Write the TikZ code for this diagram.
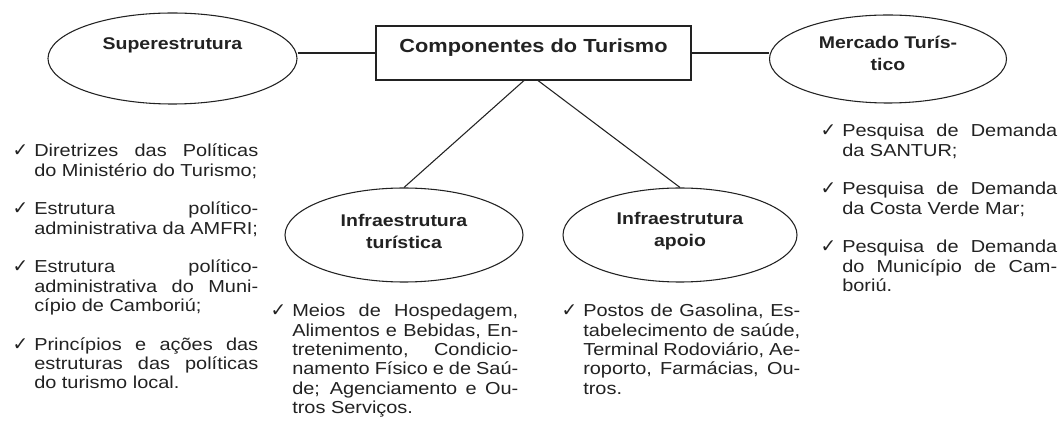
\documentclass[tikz,border=0pt]{standalone}
\usepackage{fontspec}
\setmainfont{Liberation Sans}[FakeStretch=1.15]
\newfontfamily\chkfont{DejaVu Sans}
\usetikzlibrary{shapes.geometric,calc}
\newcommand{\jl}[1]{\makebox[\linewidth][s]{#1}}
\newcommand{\lst}[2]{\parbox[t]{#1}{\noindent\llap{{\chkfont\fontsize{14pt}{14pt}\selectfont ✓}\hspace{4.5pt}}#2}}
\definecolor{ink}{HTML}{222222}
\begin{document}
\begin{tikzpicture}[x=0.75pt,y=-0.75pt,
  every node/.style={text=ink},
  ell/.style={draw=ink, ellipse, inner sep=0pt, line width=0.8pt},
  lbl/.style={font=\fontsize{12.7pt}{16.5pt}\selectfont\bfseries, align=center, text=ink},
  conn/.style={draw=ink, line width=0.8pt},
  body/.style={anchor=base west, inner sep=0pt, font=\fontsize{13pt}{14.5pt}\selectfont}
]
\useasboundingbox[fill=white] (0,0) rectangle (1063,427);

% top row
\node[ell, minimum width=186.75pt, minimum height=68.25pt,
      label={[lbl,yshift=10pt]center:Superestrutura}] (sup) at (172.5,58.5) {};
\node[draw=ink, line width=0.8pt, minimum width=236.25pt, minimum height=40.5pt, inner sep=0pt,
      label={[lbl,font=\fontsize{14.2pt}{18pt}\selectfont\bfseries,yshift=3.75pt]center:Componentes do Turismo}] (box) at (533.5,53) {};
\node[ell, minimum width=177.75pt, minimum height=66pt,
      label={[lbl,yshift=4.5pt]center:Mercado Turís-\\tico}] (merc) at (888,59) {};

% second row
\node[ell, minimum width=178.5pt, minimum height=70.5pt,
      label={[lbl,yshift=3pt]center:Infraestrutura\\turística}] (it) at (404,235) {};
\node[ell, minimum width=175.5pt, minimum height=70.5pt,
      label={[lbl,yshift=3pt]center:Infraestrutura\\apoio}] (ia) at (680,235) {};

% connectors
\draw[conn] (sup.east |- box.west) -- (box.west);
\draw[conn] (box.east) -- (merc.west |- box.east);
\draw[conn] ($(box.south)+(-9.5,0)$) -- (it.north);
\draw[conn] ($(box.south)+(4.5,0)$) -- (ia.north);

% left list
\node[body] (l1) at (34,157)
  {\lst{168pt}{\jl{Diretrizes das Políticas}\\do Ministério do Turismo;}};
\node[body] (l2) at (34,215)
  {\lst{168pt}{\jl{Estrutura político-}\\administrativa da AMFRI;}};
\node[body] (l3) at (34,273)
  {\lst{168pt}{\jl{Estrutura político-}\\\jl{administrativa do Muni-}\\cípio de Camboriú;}};
\node[body] (l4) at (34,350)
  {\lst{168pt}{\jl{Princípios e ações das}\\\jl{estruturas das políticas}\\do turismo local.}};

% middle lists
\node[body] (m1) at (292,317)
  {\lst{169.5pt}{\jl{Meios de Hospedagem,}\\\jl{Alimentos e Bebidas, En-}\\\jl{tretenimento, Condicio-}\\\jl{namento Físico e de Saú-}\\\jl{de; Agenciamento e Ou-}\\tros Serviços.}};
\node[body] (m2) at (583,317)
  {\lst{162.75pt}{\jl{Postos de Gasolina, Es-}\\\jl{tabelecimento de saúde,}\\\jl{Terminal Rodoviário, Ae-}\\\jl{roporto, Farmácias, Ou-}\\tros.}};

% right list
\node[body] (r1) at (842,137)
  {\lst{161.25pt}{\jl{Pesquisa de Demanda}\\da SANTUR;}};
\node[body] (r2) at (842,195)
  {\lst{161.25pt}{\jl{Pesquisa de Demanda}\\da Costa Verde Mar;}};
\node[body] (r3) at (842,253)
  {\lst{161.25pt}{\jl{Pesquisa de Demanda}\\\jl{do Município de Cam-}\\boriú.}};
\end{tikzpicture}
\end{document}
